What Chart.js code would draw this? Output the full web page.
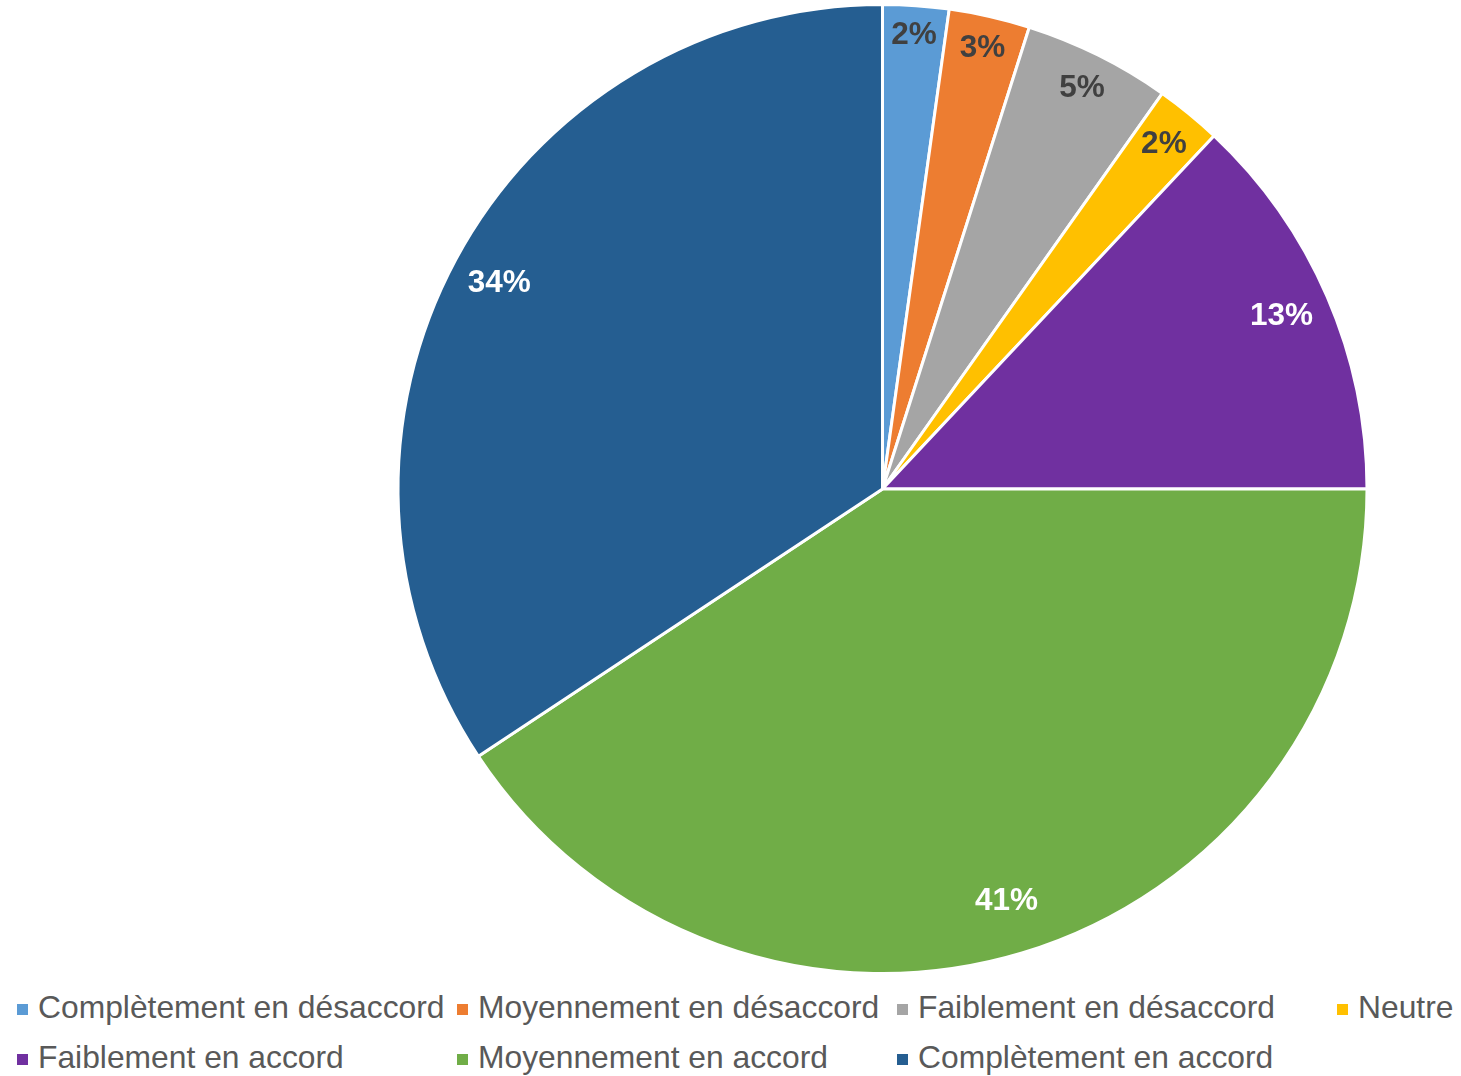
<!DOCTYPE html>
<html>
<head>
<meta charset="utf-8">
<script src="https://cdn.jsdelivr.net/npm/chart.js@4/dist/chart.umd.min.js"></script>
<style>
  body { margin: 0; background: #fff; font-family: "Liberation Sans", Arial, sans-serif; }
  #wrap { position: relative; width: 1461px; height: 1076px; }
  #box { position: absolute; left: 0; top: 0; width: 1461px; height: 980px; }
  .item { position: absolute; height: 40px; }
  .sq { position: absolute; left: 0; width: 11px; height: 11px; }
  .txt { position: absolute; left: 21px; top: 0; white-space: nowrap; font-size: 31.8px; line-height: 36px; color: #595959; }
</style>
</head>
<body>
<div id="wrap">
  <div id="box"><canvas id="pieAccord"></canvas></div>
  <div id="legend"></div>
</div>
<script>
var categories = [
    "Complètement en désaccord",
    "Moyennement en désaccord",
    "Faiblement en désaccord",
    "Neutre",
    "Faiblement en accord",
    "Moyennement en accord",
    "Complètement en accord"
];
var shares = [2.2, 2.7, 4.9, 2.2, 13.0, 40.7, 34.3];

var colors = ["#5B9BD5", "#ED7D31", "#A5A5A5", "#FFC000", "#7030A0", "#70AD47", "#255E91"];
var labelColors = ["#404040", "#404040", "#404040", "#404040", "#ffffff", "#ffffff", "#ffffff"];

// percentage labels, "inside end" like the spreadsheet
var insideLabels = {
    id: 'insideLabels',
    afterDatasetsDraw: function (chart) {
        var ctx = chart.ctx;
        var meta = chart.getDatasetMeta(0);
        var total = shares.reduce(function (a, b) { return a + b; }, 0);
        ctx.save();
        ctx.font = "bold 31.5px 'Liberation Sans', Arial, sans-serif";
        ctx.textAlign = 'center';
        ctx.textBaseline = 'middle';
        meta.data.forEach(function (arc, i) {
            var p = arc.getProps(['x', 'y', 'startAngle', 'endAngle', 'outerRadius'], true);
            var mid = (p.startAngle + p.endAngle) / 2;
            var txt = Math.round(shares[i] / total * 100) + '%';
            var w = ctx.measureText(txt).width;
            var c = Math.cos(mid), s = Math.sin(mid);
            // labels in the lower half sit a bit deeper inside
            var pad = 16 + 18 * Math.max(0, s);
            var d = p.outerRadius - pad - (Math.abs(c) * w / 2 + Math.abs(s) * 12);
            ctx.fillStyle = labelColors[i];
            ctx.fillText(txt, p.x + c * d, p.y + s * d);
        });
        ctx.restore();
    }
};

var ctx1 = document.getElementById("pieAccord");

var pieChart1 = new Chart(ctx1, {
    type: 'pie',
    data: {
        labels: categories,
        datasets: [
            {
                data: shares,
                backgroundColor: colors,
                hoverBackgroundColor: colors,
                borderColor: '#ffffff',
                borderWidth: 3,
                hoverOffset: 0
            }]
    },
    options: {
        responsive: true,
        maintainAspectRatio: false,
        animation: false,
        layout: { padding: { left: 304, right: 0, top: 3, bottom: 5 } },
        plugins: {
            legend: { display: false },
            tooltip: { enabled: false }
        }
    },
    plugins: [insideLabels]
});

// legend in a 4-column grid under the pie
var legend = document.getElementById("legend");
categories.forEach(function (name, i) {
    var col = i % 4, row = Math.floor(i / 4);
    var item = document.createElement('div');
    item.className = 'item';
    item.style.left = (17 + col * 440) + 'px';
    item.style.top = (989 + row * 50) + 'px';
    var sq = document.createElement('span');
    sq.className = 'sq';
    sq.style.background = colors[i];
    sq.style.top = '15px';
    var t = document.createElement('span');
    t.className = 'txt';
    t.textContent = name;
    item.appendChild(sq);
    item.appendChild(t);
    legend.appendChild(item);
});
</script>
</body>
</html>
